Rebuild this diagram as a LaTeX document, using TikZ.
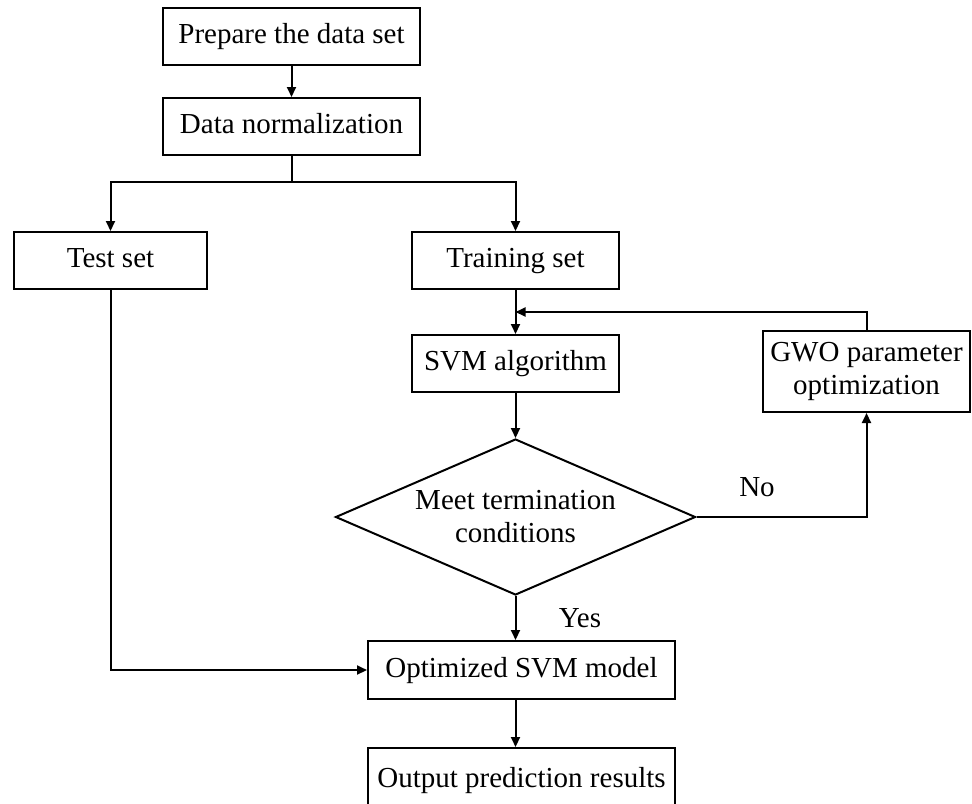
\documentclass[tikz,border=0pt]{standalone}
\usepackage{fontspec}
\setmainfont{Liberation Serif}
\usetikzlibrary{shapes.geometric,arrows.meta}
\begin{document}
\begin{tikzpicture}[x=0.5pt,y=-0.5pt,
  every node/.style={font=\fontsize{14.5}{16.5}\selectfont},
  procbox/.style={draw,line width=1pt,inner sep=0pt,align=center},
  oneline/.style={text height=10pt,text depth=3pt},
  decbox/.style={draw,line width=1pt,shape=diamond,inner sep=0pt,align=center,shape aspect=2.31,minimum width=180pt,minimum height=78pt},
  arr/.style={line width=1pt,-{Triangle[length=5pt,width=4.5pt]}},
  conn/.style={line width=1pt},
  lbl/.style={inner sep=0pt}]
\useasboundingbox (0,0) rectangle (972,803);
\clip (0,0) rectangle (972,803);
\node[procbox,oneline,minimum width=128.5pt,minimum height=28.5pt] (prep) at (291.5,36.5) {Prepare the data set};
\node[procbox,oneline,minimum width=128.5pt,minimum height=28.5pt] (norm) at (291.5,126.5) {Data normalization};
\node[procbox,oneline,minimum width=96.5pt,minimum height=28.5pt] (test) at (110.5,260.5) {Test set};
\node[procbox,oneline,minimum width=103.5pt,minimum height=28.5pt] (train) at (515.5,260.5) {Training set};
\node[procbox,oneline,minimum width=103.5pt,minimum height=28.5pt] (svm) at (515.5,363.5) {SVM algorithm};
\node[procbox,minimum width=103.5pt,minimum height=40.5pt] (gwo) at (866.5,371.5) {GWO parameter\\optimization};
\node[decbox] (dec) at (515.5,517) {Meet termination\\conditions};
\node[procbox,oneline,minimum width=153.5pt,minimum height=29pt] (opt) at (521.5,670) {Optimized SVM model};
\node[procbox,oneline,minimum width=153.5pt,minimum height=32pt] (out) at (521.5,780) {Output prediction results};
\coordinate (split) at (291.5,182);
\coordinate (fb) at (515.5,312);
\draw[arr] (prep) -- (norm);
\draw[conn] (norm.south) -- (split);
\draw[arr] (split) -| (test.north);
\draw[arr] (split) -| (train.north);
\draw[arr] (train) -- (svm);
\draw[arr] (gwo.north) |- (fb);
\draw[arr] (svm) -- (dec);
\draw[arr] (dec.east) -| (gwo.south);
\draw[arr] (dec.south) -- (dec.south |- opt.north);
\draw[arr] (test.south) |- (opt.west);
\draw[arr] (opt.south -| dec.south) -- (out.north -| dec.south);
\node[lbl] (no) at (757,487) {No};
\node[lbl] (yes) at (580,618) {Yes};
\end{tikzpicture}
\end{document}
